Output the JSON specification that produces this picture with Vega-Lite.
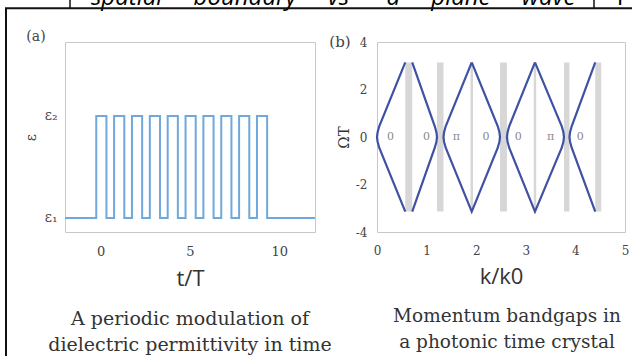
{
  "$schema": "https://vega.github.io/schema/vega-lite/v6.json",
  "autosize": {"type": "none"},
  "padding": {"left": 65, "top": 42, "right": 600, "bottom": 330},
  "background": "white",
  "bounds": "flush",
  "spacing": 62,
  "config": {
    "view": {"stroke": "#c8c8c8", "strokeWidth": 1},
    "axis": {"grid": false, "domain": false, "ticks": false, "labelFont": "DejaVu Serif", "labelColor": "#444", "titleFontWeight": "normal", "titleColor": "#333", "labelFlush": false, "labelOverlap": false, "labelBound": false},
    "title": {"font": "DejaVu Serif", "fontWeight": "normal", "color": "#333", "orient": "bottom", "anchor": "middle", "frame": "group", "lineHeight": 26}
  },
  "datasets": {
    "wave": [
      {"t": -2, "eps": 1}, {"t": -0.25, "eps": 2}, {"t": 0.32, "eps": 1},
      {"t": 0.75, "eps": 2}, {"t": 1.32, "eps": 1},
      {"t": 1.75, "eps": 2}, {"t": 2.32, "eps": 1},
      {"t": 2.75, "eps": 2}, {"t": 3.32, "eps": 1},
      {"t": 3.75, "eps": 2}, {"t": 4.32, "eps": 1},
      {"t": 4.75, "eps": 2}, {"t": 5.32, "eps": 1},
      {"t": 5.75, "eps": 2}, {"t": 6.32, "eps": 1},
      {"t": 6.75, "eps": 2}, {"t": 7.32, "eps": 1},
      {"t": 7.75, "eps": 2}, {"t": 8.32, "eps": 1},
      {"t": 8.75, "eps": 2}, {"t": 9.32, "eps": 1},
      {"t": 12, "eps": 1}
    ],
    "gaps": [
      {"k1": 0.57, "k2": 0.71}, {"k1": 1.21, "k2": 1.34}, {"k1": 1.885, "k2": 1.935},
      {"k1": 2.48, "k2": 2.62}, {"k1": 3.16, "k2": 3.21}, {"k1": 3.77, "k2": 3.88},
      {"k1": 4.40, "k2": 4.52}
    ],
    "bands": [
      {"id": "d1", "o": 0, "k": 0.57, "w": -3.1416}, {"id": "d1", "o": 1, "k": 0.045, "w": -0.45},
      {"id": "d1", "o": 2, "k": 0.012, "w": -0.2}, {"id": "d1", "o": 3, "k": 0, "w": 0},
      {"id": "d1", "o": 4, "k": 0.012, "w": 0.2}, {"id": "d1", "o": 5, "k": 0.045, "w": 0.45},
      {"id": "d1", "o": 6, "k": 0.57, "w": 3.1416},
      {"id": "d2", "o": 0, "k": 0.71, "w": 3.1416}, {"id": "d2", "o": 1, "k": 1.165, "w": 0.45},
      {"id": "d2", "o": 2, "k": 1.198, "w": 0.2}, {"id": "d2", "o": 3, "k": 1.21, "w": 0},
      {"id": "d2", "o": 4, "k": 1.198, "w": -0.2}, {"id": "d2", "o": 5, "k": 1.165, "w": -0.45},
      {"id": "d2", "o": 6, "k": 0.71, "w": -3.1416},
      {"id": "d3", "o": 0, "k": 1.91, "w": 3.1416}, {"id": "d3", "o": 1, "k": 1.385, "w": 0.45},
      {"id": "d3", "o": 2, "k": 1.352, "w": 0.2}, {"id": "d3", "o": 3, "k": 1.34, "w": 0},
      {"id": "d3", "o": 4, "k": 1.352, "w": -0.2}, {"id": "d3", "o": 5, "k": 1.385, "w": -0.45},
      {"id": "d3", "o": 6, "k": 1.91, "w": -3.1416}, {"id": "d3", "o": 7, "k": 2.435, "w": -0.45},
      {"id": "d3", "o": 8, "k": 2.468, "w": -0.2}, {"id": "d3", "o": 9, "k": 2.48, "w": 0},
      {"id": "d3", "o": 10, "k": 2.468, "w": 0.2}, {"id": "d3", "o": 11, "k": 2.435, "w": 0.45},
      {"id": "d3", "o": 12, "k": 1.91, "w": 3.1416},
      {"id": "d4", "o": 0, "k": 3.185, "w": 3.1416}, {"id": "d4", "o": 1, "k": 2.665, "w": 0.45},
      {"id": "d4", "o": 2, "k": 2.632, "w": 0.2}, {"id": "d4", "o": 3, "k": 2.62, "w": 0},
      {"id": "d4", "o": 4, "k": 2.632, "w": -0.2}, {"id": "d4", "o": 5, "k": 2.665, "w": -0.45},
      {"id": "d4", "o": 6, "k": 3.185, "w": -3.1416}, {"id": "d4", "o": 7, "k": 3.725, "w": -0.45},
      {"id": "d4", "o": 8, "k": 3.758, "w": -0.2}, {"id": "d4", "o": 9, "k": 3.77, "w": 0},
      {"id": "d4", "o": 10, "k": 3.758, "w": 0.2}, {"id": "d4", "o": 11, "k": 3.725, "w": 0.45},
      {"id": "d4", "o": 12, "k": 3.185, "w": 3.1416},
      {"id": "d5", "o": 0, "k": 4.40, "w": 3.1416}, {"id": "d5", "o": 1, "k": 3.925, "w": 0.45},
      {"id": "d5", "o": 2, "k": 3.892, "w": 0.2}, {"id": "d5", "o": 3, "k": 3.88, "w": 0},
      {"id": "d5", "o": 4, "k": 3.892, "w": -0.2}, {"id": "d5", "o": 5, "k": 3.925, "w": -0.45},
      {"id": "d5", "o": 6, "k": 4.40, "w": -3.1416}
    ],
    "phases": [
      {"k": 0.27, "lab": "0"}, {"k": 1.0, "lab": "0"}, {"k": 1.6, "lab": "π"},
      {"k": 2.2, "lab": "0"}, {"k": 2.85, "lab": "0"}, {"k": 3.5, "lab": "π"},
      {"k": 4.1, "lab": "0"}
    ],
    "one": [{}]
  },
  "hconcat": [
    {
      "width": 250,
      "height": 190,
      "layer": [
        {
          "data": {"name": "wave"},
          "mark": {"type": "line", "interpolate": "step-after", "color": "#6fa8dc", "strokeWidth": 2},
          "encoding": {
            "x": {"field": "t", "type": "quantitative", "scale": {"domain": [-2, 12], "nice": false, "zero": false},
                  "axis": {"values": [0, 5, 10], "title": "t/T", "titleFont": "Open Sans", "titleFontSize": 22, "titlePadding": 10, "labelFontSize": 13, "labelPadding": 13}},
            "y": {"field": "eps", "type": "quantitative", "scale": {"domain": [0.8627, 2.7255], "nice": false, "zero": false},
                  "axis": {"values": [1, 2], "labelExpr": "datum.value == 1 ? 'ε₁' : 'ε₂'", "title": "ε", "titleFont": "DejaVu Serif", "titleFontSize": 14, "titlePadding": 6, "labelFontSize": 14, "labelPadding": 8}}
          }
        },
        {
          "data": {"name": "one"},
          "mark": {"type": "text", "font": "DejaVu Serif", "fontSize": 19, "color": "#333", "align": "center", "baseline": "top", "lineHeight": 26},
          "encoding": {"x": {"datum": 5.0}, "y": {"datum": 0.098}, "text": {"value": ["A periodic modulation of", "dielectric permittivity in time"]}}
        },
        {
          "data": {"name": "one"},
          "mark": {"type": "text", "font": "DejaVu Serif", "fontSize": 14, "color": "#444", "align": "center", "baseline": "middle"},
          "encoding": {"x": {"datum": -3.624}, "y": {"datum": 2.775}, "text": {"value": "(a)"}}
        },
        {
          "data": {"name": "one"},
          "mark": {"type": "text", "font": "Open Sans", "fontStyle": "italic", "fontSize": 24, "color": "#000", "align": "left", "baseline": "alphabetic"},
          "encoding": {"x": {"datum": -0.544}, "y": {"datum": 3.088}, "text": {"value": "spatial\u00a0\u00a0\u00a0\u00a0\u00a0boundary\u00a0\u00a0\u00a0\u00a0\u00a0vs\u00a0\u00a0\u00a0\u00a0\u00a0\u00a0a\u00a0\u00a0\u00a0\u00a0\u00a0plane\u00a0\u00a0\u00a0\u00a0\u00a0wave"}}
        },
        {
          "data": {"name": "one"},
          "mark": {"type": "text", "font": "Open Sans", "fontSize": 24, "color": "#000", "align": "left", "baseline": "alphabetic"},
          "encoding": {"x": {"datum": 28.9}, "y": {"datum": 3.088}, "text": {"value": "F"}}
        },
        {
          "data": {"name": "one"},
          "mark": {"type": "rule", "color": "#111", "strokeWidth": 2},
          "encoding": {"x": {"datum": -5.304}, "y": {"datum": 3.056}, "y2": {"datum": -0.45}}
        },
        {
          "data": {"name": "one"},
          "mark": {"type": "rule", "color": "#111", "strokeWidth": 2},
          "encoding": {"x": {"datum": -5.36}, "x2": {"datum": 33.56}, "y": {"datum": 3.056}}
        },
        {
          "data": {"name": "one"},
          "mark": {"type": "rule", "color": "#111", "strokeWidth": 1.5},
          "encoding": {"x": {"datum": -1.72}, "y": {"datum": 3.167}, "y2": {"datum": 3.056}}
        },
        {
          "data": {"name": "one"},
          "mark": {"type": "rule", "color": "#111", "strokeWidth": 1.5},
          "encoding": {"x": {"datum": 27.624}, "y": {"datum": 3.167}, "y2": {"datum": 3.056}}
        }
      ]
    },
    {
      "width": 248,
      "height": 190,
      "title": {"text": ["Momentum bandgaps in", "a photonic time crystal"], "fontSize": 18.5, "offset": 20, "dx": 6},
      "layer": [
        {
          "data": {"name": "gaps"},
          "mark": {"type": "rect", "color": "#d7d7d7"},
          "encoding": {
            "x": {"field": "k1", "type": "quantitative", "scale": {"domain": [0, 5], "nice": false, "zero": false},
                  "axis": {"values": [0, 1, 2, 3, 4, 5], "title": "k/k0", "titleFont": "Open Sans", "titleFontSize": 22, "titlePadding": 10, "labelFontSize": 12, "labelPadding": 13}},
            "x2": {"field": "k2"},
            "y": {"datum": -3.1416, "type": "quantitative", "scale": {"domain": [-4, 4], "nice": false, "zero": false},
                  "axis": {"values": [-4, -2, 0, 2, 4], "labelExpr": "replace(datum.label, '−', '-')", "title": "ΩT", "titleFont": "DejaVu Serif", "titleFontSize": 15, "labelFontSize": 12, "labelPadding": 10, "titlePadding": 4}},
            "y2": {"datum": 3.1416}
          }
        },
        {
          "data": {"name": "bands"},
          "mark": {"type": "line", "color": "#3f51a3", "strokeWidth": 2.2},
          "encoding": {
            "x": {"field": "k", "type": "quantitative"},
            "y": {"field": "w", "type": "quantitative"},
            "detail": {"field": "id"},
            "order": {"field": "o"}
          }
        },
        {
          "data": {"name": "phases"},
          "mark": {"type": "text", "font": "DejaVu Serif", "fontSize": 11, "color": "#888", "baseline": "middle"},
          "encoding": {
            "x": {"field": "k", "type": "quantitative"},
            "y": {"datum": 0},
            "text": {"field": "lab"}
          }
        },
        {
          "data": {"name": "one"},
          "mark": {"type": "text", "font": "DejaVu Serif", "fontSize": 15, "color": "#444", "align": "center", "baseline": "middle"},
          "encoding": {"x": {"datum": -0.746}, "y": {"datum": 4.0}, "text": {"value": "(b)"}}
        }
      ]
    }
  ]
}
